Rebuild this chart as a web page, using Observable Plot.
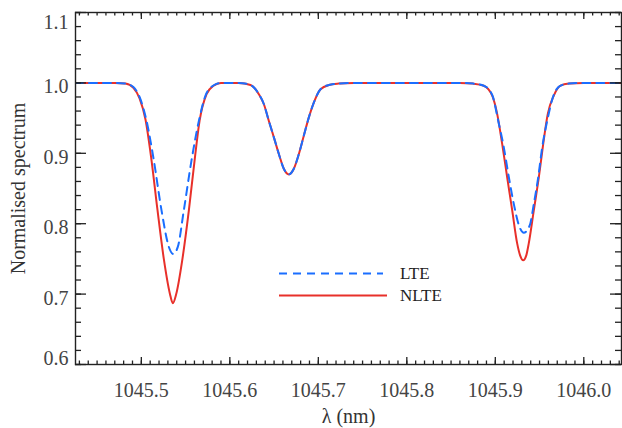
<!DOCTYPE html>
<html><head><meta charset="utf-8">
<script src="https://cdn.jsdelivr.net/npm/d3@7"></script>
<script src="https://cdn.jsdelivr.net/npm/@observablehq/plot@0.6"></script>
<style>
body{margin:0;background:#fff;}
#wrap{position:relative;width:622px;height:428px;background:#fff;}
#legend{position:absolute;left:0;top:0;pointer-events:none;}
</style></head><body><div id="wrap"></div>
<script>
// ---- data ----
const nlteWave = [1045.425,1045.450,1045.470,1045.482,1045.491,1045.498,1045.5047,1045.511,1045.518,1045.5254,1045.5322,1045.5356,1045.5394,1045.5462,1045.5537,1045.5601,1045.5658,1045.5737,1045.5815,1045.590,
  1045.610,1045.6234,1045.6328,1045.6384,1045.6441,1045.6497,1045.6554,1045.661,1045.6667,1045.6723,1045.678,1045.6836,1045.6893,1045.6949,1045.7025,1045.7119,1045.7232,1045.740,
  1045.800,1045.860,1045.875,1045.887,1045.8965,1045.9021,1045.9078,1045.9134,1045.9191,1045.9247,1045.928,1045.9315,1045.935,1045.9378,1045.9435,1045.9492,1045.9541,1045.9593,1045.9661,1045.9737,1045.9831,1046.000,1046.043];
const nlteFlux = [1.000,1.000,1.000,0.999,0.993,0.978,0.948,0.895,0.822,0.750,0.701,0.687,0.700,0.748,0.819,0.889,0.946,0.984,0.996,1.000,
  1.000,0.997,0.984,0.970,0.946,0.923,0.899,0.878,0.870,0.878,0.899,0.925,0.951,0.972,0.991,0.997,0.999,1.000,
  1.000,1.000,0.999,0.996,0.982,0.956,0.913,0.866,0.819,0.772,0.755,0.748,0.755,0.772,0.819,0.866,0.913,0.956,0.982,0.996,0.999,1.000,1.000];
const lteWave = [1045.425,1045.450,1045.470,1045.482,1045.491,1045.498,1045.5059,1045.5141,1045.5228,1045.5311,1045.536,1045.5412,1045.548,1045.5567,1045.565,1045.5725,1045.581,1045.590,
  1045.610,1045.6234,1045.6328,1045.6384,1045.6441,1045.6497,1045.6554,1045.661,1045.6667,1045.6723,1045.678,1045.6836,1045.6893,1045.6949,1045.7025,1045.7119,1045.7232,1045.740,
  1045.800,1045.860,1045.875,1045.887,1045.8965,1045.9033,1045.9096,1045.9153,1045.9209,1045.9266,1045.9322,1045.939,1045.9435,1045.9485,1045.953,1045.9586,1045.966,1045.9737,1045.9831,1046.000,1046.043];
const lteFlux = [1.000,1.000,1.000,0.999,0.994,0.980,0.946,0.890,0.819,0.767,0.757,0.767,0.819,0.890,0.946,0.982,0.996,1.000,
  1.000,0.997,0.984,0.970,0.946,0.923,0.899,0.878,0.870,0.878,0.899,0.925,0.951,0.972,0.991,0.997,0.999,1.000,
  1.000,1.000,0.999,0.996,0.983,0.946,0.9085,0.866,0.828,0.798,0.787,0.798,0.828,0.866,0.9085,0.946,0.983,0.996,0.999,1.000,1.000];
const seriesNames = ["LTE","NLTE"];
const xMajorTicks = [1045.5,1045.6,1045.7,1045.8,1045.9,1046.0];
const xTickLabels = ["1045.5","1045.6","1045.7","1045.8","1045.9","1046.0"];
const yMajorTicks = [0.6,0.7,0.8,0.9,1.0,1.1];
const yTickLabels = ["0.6","0.7","0.8","0.9","1.0","1.1"];
const xLabel = "λ (nm)";
const yLabel = "Normalised spectrum";

// ---- layout ----
const W = 622, H = 428, ML = 75, MR = 1, MT = 12, MB = 64;
const xDom = [1045.4256, 1046.0426], yDom = [0.6, 1.1];
const pxX = (W - ML - MR) / (xDom[1] - xDom[0]);
const pxY = (H - MT - MB) / (yDom[1] - yDom[0]);
const xMinor = d3.range(1045.43, 1046.045, 0.01).map(v => +v.toFixed(2));
const yMinor = d3.range(0.6, 1.1001, 0.02).map(v => +v.toFixed(2));

const nlte = nlteWave.map((x, i) => ({x, y: nlteFlux[i]}));
const lte = lteWave.map((x, i) => ({x, y: lteFlux[i]}));

const tickColor = "#222", font = "Liberation Serif", fs = 20;
function xTicks(vals, len) {
  return [
    Plot.ruleX(vals, {x: d => d, y1: yDom[0], y2: yDom[0] + len / pxY, stroke: tickColor, strokeWidth: 1.3}),
    Plot.ruleX(vals, {x: d => d, y1: yDom[1] - len / pxY, y2: yDom[1], stroke: tickColor, strokeWidth: 1.3})
  ];
}
function yTicks(vals, len) {
  return [
    Plot.ruleY(vals, {y: d => d, x1: xDom[0], x2: xDom[0] + len / pxX, stroke: tickColor, strokeWidth: 1.3}),
    Plot.ruleY(vals, {y: d => d, x1: xDom[1] - len / pxX, x2: xDom[1], stroke: tickColor, strokeWidth: 1.3})
  ];
}
const yText = (vals, dy) => Plot.text(vals, {y: d => d, frameAnchor: "left", dx: -7, dy, textAnchor: "end",
  text: d => yTickLabels[yMajorTicks.indexOf(d)], fontSize: fs, fill: "#444", fontFamily: font});

const chart = Plot.plot({
  width: W, height: H, marginLeft: ML, marginRight: MR, marginTop: MT, marginBottom: MB,
  x: {domain: xDom, axis: null},
  y: {domain: yDom, axis: null},
  style: {background: "#fff", fontFamily: font},
  marks: [
    Plot.line(nlte, {x: "x", y: "y", stroke: "#e8302a", strokeWidth: 2, curve: "monotone-x", clip: true}),
    Plot.line(lte, {x: "x", y: "y", stroke: "#1a6eff", strokeWidth: 2, strokeDasharray: "8,6", curve: "monotone-x", clip: true}),
    ...xTicks(xMinor, 3.5), ...xTicks(xMajorTicks, 7),
    ...yTicks(yMinor, 6), ...yTicks(yMajorTicks, 11),
    Plot.frame({stroke: tickColor, strokeWidth: 1.4}),
    Plot.text(xMajorTicks, {x: d => d, frameAnchor: "bottom", dy: 26, lineAnchor: "middle",
      text: (d, i) => xTickLabels[i], fontSize: fs, fill: "#444", fontFamily: font}),
    yText([0.7, 0.8, 0.9, 1.0], 4),
    yText([1.1], 10),
    yText([0.6], -6),
    Plot.text([xLabel], {frameAnchor: "bottom", dy: 52, lineAnchor: "middle", textAnchor: "middle", fontSize: fs, fill: "#333", fontFamily: font}),
    Plot.text([yLabel], {frameAnchor: "left", dx: -57, rotate: -90, lineAnchor: "middle", textAnchor: "middle", fontSize: fs, fill: "#333", fontFamily: font})
  ]
});
const wrap = document.getElementById("wrap");
wrap.appendChild(chart);

// legend overlay
const ns = "http://www.w3.org/2000/svg";
const lg = document.createElementNS(ns, "svg");
lg.setAttribute("id", "legend"); lg.setAttribute("width", W); lg.setAttribute("height", H);
const items = [
  {name: seriesNames[0], color: "#1a6eff", dash: "8,6", y: 273.5, x2: 383},
  {name: seriesNames[1], color: "#e8302a", dash: null, y: 295.5, x2: 387}
];
for (const it of items) {
  const l = document.createElementNS(ns, "line");
  l.setAttribute("x1", 279); l.setAttribute("x2", it.x2);
  l.setAttribute("y1", it.y); l.setAttribute("y2", it.y);
  l.setAttribute("stroke", it.color); l.setAttribute("stroke-width", 2);
  if (it.dash) l.setAttribute("stroke-dasharray", it.dash);
  lg.appendChild(l);
  const t = document.createElementNS(ns, "text");
  t.setAttribute("x", 400); t.setAttribute("y", it.y + 5.7);
  t.setAttribute("font-family", font); t.setAttribute("font-size", 17); t.setAttribute("fill", "#222");
  t.textContent = it.name;
  lg.appendChild(t);
}
wrap.appendChild(lg);
</script></body></html>
